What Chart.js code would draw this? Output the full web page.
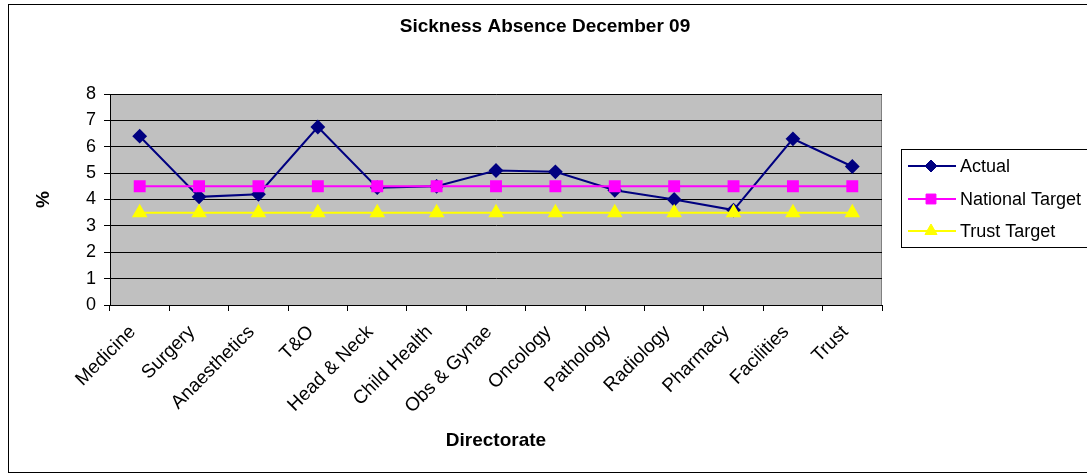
<!DOCTYPE html>
<html>
<head>
<meta charset="utf-8">
<script src="https://cdn.jsdelivr.net/npm/chart.js@4.4.0/dist/chart.umd.min.js"></script>
<style>
  html, body { margin: 0; padding: 0; background: #ffffff; }
  #wrap { width: 1087px; height: 475px; position: relative; }
</style>
</head>
<body>
<div id="wrap"><canvas id="chart" width="1087" height="475"></canvas></div>
<script>
// Directorates along the x axis
const categories = ['Medicine', 'Surgery', 'Anaesthetics', 'T&O', 'Head & Neck', 'Child Health',
  'Obs & Gynae', 'Oncology', 'Pathology', 'Radiology', 'Pharmacy', 'Facilities', 'Trust'];

// Sickness absence (%) per directorate
const actual = [6.4, 4.1, 4.2, 6.75, 4.45, 4.5, 5.1, 5.05, 4.35, 4.0, 3.6, 6.3, 5.25];
const nationalTarget = [4.5, 4.5, 4.5, 4.5, 4.5, 4.5, 4.5, 4.5, 4.5, 4.5, 4.5, 4.5, 4.5];
const trustTarget = [3.5, 3.5, 3.5, 3.5, 3.5, 3.5, 3.5, 3.5, 3.5, 3.5, 3.5, 3.5, 3.5];

const seriesNames = ['Actual', 'National Target', 'Trust Target'];
const yTicks = [0, 1, 2, 3, 4, 5, 6, 7, 8];

const FONT = '"Liberation Sans", Arial, sans-serif';

// Plot background, plot frame, outer frame, title and boxed legend
const decorations = {
  id: 'decorations',
  beforeDraw(chart) {
    const { ctx, chartArea: a } = chart;
    ctx.save();
    ctx.fillStyle = '#ffffff';
    ctx.fillRect(0, 0, chart.width, chart.height);
    ctx.strokeStyle = '#000000';
    ctx.lineWidth = 1;
    ctx.strokeRect(8.5, 4.5, 1090, 468);
    ctx.fillStyle = '#c0c0c0';
    ctx.fillRect(a.left, a.top, a.right - a.left, a.bottom - a.top);
    ctx.strokeStyle = '#808080';
    ctx.strokeRect(a.left + 0.5, a.top + 0.5, a.right - a.left - 1, a.bottom - a.top);
    ctx.restore();
  },
  afterDraw(chart) {
    const { ctx } = chart;
    ctx.save();
    // title
    ctx.fillStyle = '#000000';
    ctx.font = 'bold 19px ' + FONT;
    ctx.textAlign = 'center';
    ctx.textBaseline = 'middle';
    ctx.fillText('Sickness Absence December 09', 545, 27);

    // legend
    const lx = 901.5, ly = 149.5, lw = 192, lh = 98;
    ctx.fillStyle = '#ffffff';
    ctx.fillRect(lx, ly, lw, lh);
    ctx.strokeStyle = '#000000';
    ctx.lineWidth = 1;
    ctx.strokeRect(lx, ly, lw, lh);
    const rows = [166, 199, 231];
    chart.data.datasets.forEach((ds, i) => {
      const y = rows[i];
      ctx.strokeStyle = ds.borderColor;
      ctx.lineWidth = ds.borderWidth;
      ctx.beginPath();
      ctx.moveTo(908, y);
      ctx.lineTo(956, y);
      ctx.stroke();
      ctx.fillStyle = ds.pointBackgroundColor;
      ctx.strokeStyle = ds.pointBorderColor;
      ctx.lineWidth = 1;
      Chart.helpers.drawPoint(ctx, { pointStyle: ds.pointStyle, radius: ds.pointRadius, rotation: 0, borderWidth: 1 }, 931, y);
      ctx.fillStyle = '#000000';
      ctx.font = '18px ' + FONT;
      ctx.textAlign = 'left';
      ctx.textBaseline = 'middle';
      ctx.fillText(ds.label, 960, y + 1);
    });
    ctx.restore();
  }
};

new Chart(document.getElementById('chart'), {
  type: 'line',
  data: {
    labels: categories,
    datasets: [
      {
        label: seriesNames[0], data: actual, order: 3,
        borderColor: '#000080', borderWidth: 2,
        pointStyle: 'rectRot', pointRadius: 6,
        pointBackgroundColor: '#000080', pointBorderColor: '#000080'
      },
      {
        label: seriesNames[1], data: nationalTarget, order: 2,
        borderColor: '#ff00ff', borderWidth: 2,
        pointStyle: 'rect', pointRadius: 7,
        pointBackgroundColor: '#ff00ff', pointBorderColor: '#ff00ff'
      },
      {
        label: seriesNames[2], data: trustTarget, order: 1,
        borderColor: '#ffff00', borderWidth: 2,
        pointStyle: 'triangle', pointRadius: 7,
        pointBackgroundColor: '#ffff00', pointBorderColor: '#ffff00'
      }
    ]
  },
  options: {
    responsive: false,
    animation: false,
    events: [],
    layout: { padding: { top: 94, right: 205, bottom: 0, left: 0 } },
    plugins: {
      legend: { display: false },
      title: { display: false },
      tooltip: { enabled: false }
    },
    elements: { line: { tension: 0 } },
    scales: {
      x: {
        type: 'category',
        offset: true,
        afterFit(scale) { scale.height = 170; },
        grid: {
          offset: true,
          drawOnChartArea: false,
          drawTicks: true,
          tickLength: 6,
          color: '#000000'
        },
        border: { color: '#000000', width: 1 },
        ticks: {
          color: '#000000',
          font: { family: FONT, size: 19 },
          minRotation: 45,
          maxRotation: 45,
          autoSkip: false,
          padding: 10,
          labelOffset: -7
        },
        title: {
          display: true,
          text: 'Directorate',
          color: '#000000',
          font: { family: FONT, size: 19, weight: 'bold' },
          padding: { top: 0, bottom: 23 }
        }
      },
      y: {
        min: 0,
        max: 8,
        afterFit(scale) { scale.width = 110; },
        afterBuildTicks(scale) { scale.ticks = yTicks.map(v => ({ value: v })); },
        grid: {
          color: '#000000',
          drawTicks: true,
          tickLength: 6
        },
        border: { color: '#000000', width: 1 },
        ticks: {
          color: '#000000',
          font: { family: FONT, size: 18 },
          padding: 8
        },
        title: {
          display: true,
          text: '%',
          color: '#000000',
          font: { family: FONT, size: 19, weight: 'bold' },
          padding: { top: 32, bottom: 0 }
        }
      }
    }
  },
  plugins: [decorations]
});
</script>
</body>
</html>
